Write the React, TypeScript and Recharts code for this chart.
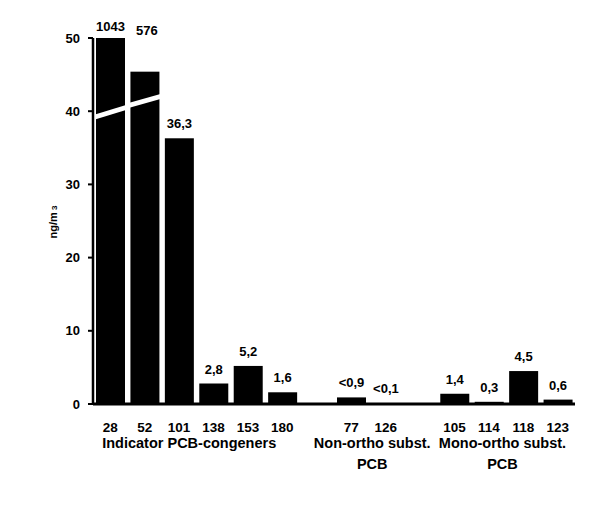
import { Bar, BarChart, LabelList, XAxis, YAxis } from 'recharts'

// PCB congeners measured in air, ng/m3. The first two bars run off the scale,
// so they are drawn cut at the top with a white break band across them.
const congeners = ['28', '52', '101', '138', '153', '180', '', '77', '126', '', '105', '114', '118', '123']
const measured = [1043, 576, 36.3, 2.8, 5.2, 1.6, null, 0.9, 0.1, null, 1.4, 0.3, 4.5, 0.6]
const valueLabels = ['1043', '576', '36,3', '2,8', '5,2', '1,6', '', '<0,9', '<0,1', '', '1,4', '0,3', '4,5', '0,6']

// height the off-scale bars are drawn at on the broken axis
const brokenShown: Record<string, number> = { '28': 50, '52': 45.4 }
// where the break band crosses each broken bar (left edge, right edge)
const breakAt: Record<string, [number, number]> = { '28': [39.2, 40.5], '52': [40.8, 42.0] }

const yTicks = [0, 10, 20, 30, 40, 50]

const groupLabels: Record<string, string[]> = {
  '28': ['Indicator PCB-congeners'],
  '77': ['Non-ortho subst.', 'PCB'],
  '105': ['Mono-ortho subst.', 'PCB'],
}

const data = congeners.map((name, i) => ({
  name: name || ' '.repeat(i),
  value: measured[i],
  shown: measured[i] == null ? null : brokenShown[name] ?? measured[i],
  label: valueLabels[i],
}))

const font = "'Liberation Sans', Arial, sans-serif"

function BrokenBar(props: any) {
  const { x, y, width, height, payload } = props
  if (!height || height <= 0) return null
  const brk = breakAt[payload.name]
  const base = y + height
  const px = height / payload.shown
  return (
    <g>
      <rect x={x} y={y} width={width} height={height} fill="#000" />
      {brk && (
        <polygon
          points={`${x - 1},${base - brk[0] * px - 2.5} ${x + width + 1},${base - brk[1] * px - 2.5} ${x + width + 1},${base - brk[1] * px + 2.5} ${x - 1},${base - brk[0] * px + 2.5}`}
          fill="#fff"
        />
      )}
    </g>
  )
}

function ValueLabel(props: any) {
  const { x, y, width, height, value } = props
  const row = data.find((d) => d.label === value)
  if (!row || row.shown == null) return null
  let ty = y - 10
  if (brokenShown[row.name] != null) {
    const top50 = y + height - (height / row.shown) * 50
    ty = top50 - (row.name === '28' ? 7 : 3)
  }
  return (
    <text
      x={x + width / 2 + (row.name === '52' ? 2 : 0)}
      y={ty}
      textAnchor="middle"
      fontFamily={font}
      fontWeight="bold"
      fontSize={13}
      fill="#000"
    >
      {row.label}
    </text>
  )
}

const groupOffset: Record<string, { dx: number; anchor: 'start' | 'middle' }> = {
  '28': { dx: -8, anchor: 'start' },
  '77': { dx: 21, anchor: 'middle' },
  '105': { dx: 48, anchor: 'middle' },
}

function CategoryTick(props: any) {
  const { x, y, payload } = props
  const name = String(payload.value).trim()
  if (!name) return null
  const lines = groupLabels[name]
  const off = groupOffset[name]
  return (
    <g fontFamily={font} fontWeight="bold" fill="#000">
      <text x={x} y={y + 20} textAnchor="middle" fontSize={13.5}>{name}</text>
      {lines &&
        lines.map((l, i) => (
          <text key={i} x={x + off.dx} y={y + 36 + i * 21} textAnchor={off.anchor} fontSize={14.5}>
            {l}
          </text>
        ))}
    </g>
  )
}

function YLabel() {
  return (
    <text
      transform="translate(57,222) rotate(-90)"
      textAnchor="middle"
      fontFamily={font}
      fontWeight="bold"
      fontSize={11}
      fill="#000"
    >
      ng/m<tspan fontSize={8}> 3</tspan>
    </text>
  )
}

export default function App() {
  return (
    <div style={{ position: 'absolute', left: 0, top: 0, background: '#fff' }}>
      <BarChart width={600} height={511} data={data} margin={{ top: 38, right: 25, bottom: 47, left: 43 }} barSize={29}>
        <XAxis
          dataKey="name"
          interval={0}
          tickLine={false}
          axisLine={{ stroke: '#000', strokeWidth: 3 }}
          tick={<CategoryTick />}
          height={60}
        />
        <YAxis
          domain={[0, 50]}
          ticks={yTicks}
          width={50}
          tickSize={5}
          tickMargin={8}
          axisLine={{ stroke: '#000', strokeWidth: 2.5 }}
          tickLine={{ stroke: '#000', strokeWidth: 2 }}
          tick={{ fill: '#000', fontFamily: font, fontWeight: 'bold', fontSize: 13 }}
          allowDataOverflow
        />
        <Bar dataKey="shown" shape={<BrokenBar />} isAnimationActive={false}>
          <LabelList dataKey="label" content={<ValueLabel />} />
        </Bar>
        <YLabel />
      </BarChart>
    </div>
  )
}
